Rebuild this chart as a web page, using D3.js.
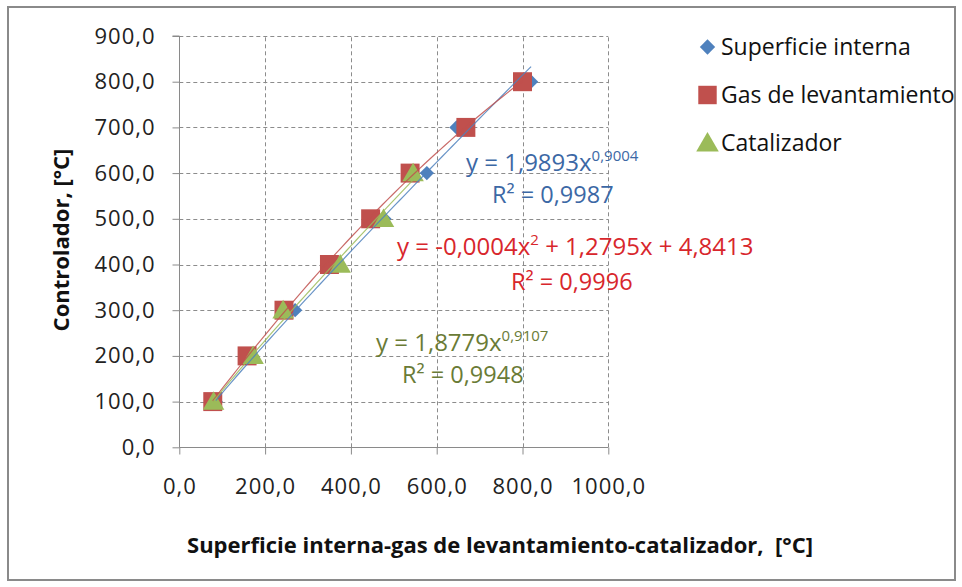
<!DOCTYPE html>
<html>
<head>
<meta charset="utf-8">
<script src="https://cdn.jsdelivr.net/npm/d3@7"></script>
<style>
  html, body { margin: 0; padding: 0; background: #fff; }
  svg { display: block; }
  text { font-family: "Open Sans", "Noto Sans", sans-serif; }
</style>
</head>
<body>
<svg id="chart" width="962" height="587"></svg>
<script>
// ---------------- data ----------------
const yValues = [100, 200, 300, 400, 500, 600, 700, 800];
const superficieX = [85, 170, 270, 372, 478, 577, 646, 820];
const gasX = [78, 158, 244, 350, 446, 538, 668, 800];
const catalizadorX = [80, 172, 242, 375, 476, 545];
const catalizadorY = [100, 200, 300, 400, 500, 600];

const xTicks = [0, 200, 400, 600, 800, 1000];
const yTicks = [0, 100, 200, 300, 400, 500, 600, 700, 800, 900];

const seriesNames = ["Superficie interna", "Gas de levantamiento", "Catalizador"];
const seriesColors = ["#4F81BD", "#C0504D", "#9BBB59"];
const labelColors = ["#3C68A5", "#D8262C", "#6A7B36"];

const yTitle = "Controlador, [°C]";
const xTitle = "Superficie interna-gas de levantamiento-catalizador,  [°C]";

// ---------------- setup ----------------
const svg = d3.select("#chart");
const locale = d3.formatLocale({decimal: ",", thousands: "", grouping: [3], currency: ["", ""]});
const fmt = locale.format(".1f");

const x = d3.scaleLinear().domain([0, 1000]).range([179.3, 608.3]);
const y = d3.scaleLinear().domain([0, 900]).range([447.3, 36]);

// outer border
svg.append("rect").attr("x", 8).attr("y", 7).attr("width", 947).attr("height", 573)
  .attr("fill", "#fff").attr("stroke", "#8a8a8a").attr("stroke-width", 2);

// gridlines
const grid = svg.append("g").attr("stroke", "#8c8c8c").attr("stroke-width", 1)
  .attr("stroke-dasharray", "4,3").attr("fill", "none");
yTicks.filter(d => d > 0).forEach(t => {
  grid.append("line").attr("x1", x(0)).attr("x2", x(1000))
    .attr("y1", Math.round(y(t)) + 0.5).attr("y2", Math.round(y(t)) + 0.5);
});
xTicks.filter(d => d > 0).forEach(t => {
  grid.append("line").attr("y1", y(0)).attr("y2", y(900))
    .attr("x1", Math.round(x(t)) + 0.5).attr("x2", Math.round(x(t)) + 0.5);
});

// axes
const yAxis = d3.axisLeft(y).tickValues(yTicks).tickFormat(fmt).tickSize(7).tickPadding(17);
const xAxis = d3.axisBottom(x).tickValues(xTicks).tickFormat(fmt).tickSize(7).tickPadding(24);

const gy = svg.append("g").attr("transform", `translate(${Math.round(x(0)) + 0.5},0)`).call(yAxis);
const gx = svg.append("g").attr("transform", `translate(0,${Math.round(y(0)) + 0.5})`).call(xAxis);
[gx, gy].forEach(g => {
  g.selectAll("path.domain").attr("stroke", "#8a8a8a");
  g.selectAll(".tick line").attr("stroke", "#8a8a8a");
  g.selectAll(".tick text").attr("fill", "#222").style("font-size", "22px")
    .style("letter-spacing", "1px")
    .style("font-family", "'Open Sans', sans-serif");
});
gy.select("path.domain").attr("d", `M-7,${y(900)}H0V${y(0)}`);
gx.select("path.domain").attr("d", `M0,0H${x(1000) - x(0)}`).attr("transform", `translate(${x(0)},0)`);

// axis titles
svg.append("text").attr("transform", `translate(69,240) rotate(-90)`)
  .attr("text-anchor", "middle").attr("font-weight", "bold").attr("font-size", 22)
  .attr("fill", "#111").text(yTitle);
svg.append("text").attr("x", 500).attr("y", 553)
  .attr("text-anchor", "middle").attr("font-weight", "bold").attr("font-size", 22)
  .attr("fill", "#111").style("white-space", "pre").text(xTitle);

// ---------------- markers ----------------
const sym = [
  d3.symbol().type(d3.symbolDiamond2).size(130),
  d3.symbol().type(d3.symbolSquare).size(360),
  d3.symbol().type(d3.symbolTriangle).size(200)
];
const datasets = [
  superficieX.map((v, i) => [v, yValues[i]]),
  gasX.map((v, i) => [v, yValues[i]]),
  catalizadorX.map((v, i) => [v, catalizadorY[i]])
];
datasets.forEach((ds, si) => {
  svg.append("g").selectAll("path").data(ds).join("path")
    .attr("d", sym[si])
    .attr("transform", d => `translate(${x(d[0])},${y(d[1]) + (si === 2 ? 2 : 0)})`)
    .attr("fill", seriesColors[si]);
});

// ---------------- trendlines (fitted from the data) ----------------
function powerFit(pts) {
  const lx = pts.map(p => Math.log(p[0])), ly = pts.map(p => Math.log(p[1]));
  const n = pts.length, mx = d3.mean(lx), my = d3.mean(ly);
  let sxy = 0, sxx = 0;
  for (let i = 0; i < n; i++) { sxy += (lx[i] - mx) * (ly[i] - my); sxx += (lx[i] - mx) ** 2; }
  const b = sxy / sxx, a = Math.exp(my - b * mx);
  return v => a * Math.pow(v, b);
}
function quadFit(pts) {
  const S = k => d3.sum(pts, p => Math.pow(p[0], k));
  const T = k => d3.sum(pts, p => p[1] * Math.pow(p[0], k));
  const A = [[S(0), S(1), S(2)], [S(1), S(2), S(3)], [S(2), S(3), S(4)]];
  const B = [T(0), T(1), T(2)];
  for (let i = 0; i < 3; i++) {
    for (let j = i + 1; j < 3; j++) {
      const f = A[j][i] / A[i][i];
      for (let k = i; k < 3; k++) A[j][k] -= f * A[i][k];
      B[j] -= f * B[i];
    }
  }
  const c = [0, 0, 0];
  for (let i = 2; i >= 0; i--) {
    let s = B[i];
    for (let k = i + 1; k < 3; k++) s -= A[i][k] * c[k];
    c[i] = s / A[i][i];
  }
  return v => c[0] + c[1] * v + c[2] * v * v;
}
const fits = [powerFit(datasets[0]), quadFit(datasets[1]), powerFit(datasets[2])];
const line = d3.line().x(d => x(d[0])).y(d => y(d[1]));
datasets.forEach((ds, si) => {
  const [lo, hi] = d3.extent(ds, d => d[0]);
  const samples = d3.range(0, 61).map(i => lo + (hi - lo) * i / 60).map(v => [v, fits[si](v)]);
  svg.append("path").attr("d", line(samples)).attr("fill", "none")
    .attr("stroke", seriesColors[si]).attr("stroke-width", 1.2).attr("opacity", 0.85);
});

// ---------------- equation labels ----------------
function eq(xp, yp, color, size, parts) {
  const t = svg.append("text").attr("x", xp).attr("y", yp).attr("fill", color)
    .attr("font-size", size).style("white-space", "pre");
  let shift = 0;
  parts.forEach(p => {
    const sp = t.append("tspan").text(p.t);
    if (p.sup) { sp.attr("font-size", 15).attr("dy", -10); shift = -10; }
    else if (shift !== 0) { sp.attr("dy", 10); shift = 0; }
  });
}
eq(466, 171, labelColors[0], 24, [{t: "y = 1,9893x"}, {t: "0,9004", sup: true}]);
eq(492, 203, labelColors[0], 23.5, [{t: "R² = 0,9987"}]);
eq(397, 255, labelColors[1], 24, [{t: "y = -0,0004x"}, {t: "2", sup: true}, {t: " + 1,2795x + 4,8413"}]);
eq(511, 290, labelColors[1], 23.5, [{t: "R² = 0,9996"}]);
eq(376, 351, labelColors[2], 24, [{t: "y = 1,8779x"}, {t: "0,9107", sup: true}]);
eq(402, 383, labelColors[2], 23.5, [{t: "R² = 0,9948"}]);

// ---------------- legend ----------------
const legY = [47, 95, 143];
const legend = svg.append("g");
seriesNames.forEach((name, i) => {
  const lsym = [d3.symbol().type(d3.symbolDiamond2).size(150),
                d3.symbol().type(d3.symbolSquare).size(340),
                d3.symbol().type(d3.symbolTriangle).size(220)][i];
  legend.append("path").attr("d", lsym)
    .attr("transform", `translate(707.5,${legY[i] + (i === 2 ? 2 : 0)})`)
    .attr("fill", seriesColors[i]);
  legend.append("text").attr("x", 721).attr("y", legY[i]).attr("dy", "0.35em")
    .attr("font-size", 23).attr("fill", "#111").text(name);
});
</script>
</body>
</html>
